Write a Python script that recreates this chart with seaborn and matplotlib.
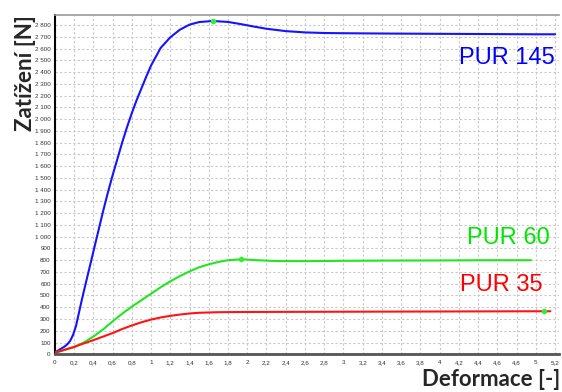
import matplotlib
matplotlib.use("Agg")
import matplotlib.pyplot as plt
import seaborn as sns
import pandas as pd

# ---- data ----
pur145_x = [0, 0.02, 0.05, 0.1, 0.13, 0.16, 0.19, 0.22, 0.25, 0.28, 0.3, 0.35, 0.4, 0.45,
            0.5, 0.55, 0.6, 0.65, 0.7, 0.75, 0.8, 0.85, 0.9, 0.95, 1.0, 1.1, 1.2, 1.3,
            1.4, 1.5, 1.64, 1.8, 1.93, 2.06, 2.2, 2.4, 2.6, 2.8, 3.0, 3.5, 4.0, 4.5,
            5.0, 5.2]
pur145_y = [0, 25, 40, 65, 85, 115, 165, 240, 350, 460, 530, 700, 870, 1040,
            1210, 1370, 1520, 1660, 1800, 1930, 2050, 2160, 2260, 2360, 2455, 2605, 2695, 2760,
            2803, 2825, 2834, 2826, 2808, 2788, 2768, 2748, 2737, 2732, 2730, 2727, 2725, 2723,
            2721, 2721]

pur60_x = [0, 0.05, 0.1, 0.15, 0.2, 0.25, 0.3, 0.4, 0.5, 0.6, 0.7, 0.8, 0.9, 1.0, 1.1,
           1.2, 1.3, 1.4, 1.5, 1.6, 1.7, 1.8, 1.94, 2.1, 2.3, 2.6, 3.0, 3.5, 4.0, 4.5, 4.95]
pur60_y = [15, 25, 38, 50, 62, 80, 100, 150, 210, 280, 345, 405, 460, 515, 570,
           620, 665, 705, 740, 765, 785, 800, 808, 800, 793, 792, 795, 797, 798, 800, 800]

pur35_x = [0, 0.05, 0.1, 0.15, 0.2, 0.25, 0.3, 0.4, 0.5, 0.6, 0.7, 0.8, 0.9, 1.0, 1.1,
           1.2, 1.3, 1.4, 1.5, 1.7, 2.0, 2.5, 3.0, 3.5, 4.0, 4.5, 5.0, 5.15]
pur35_y = [15, 25, 38, 50, 62, 78, 92, 120, 150, 180, 215, 245, 272, 295, 313,
           327, 338, 347, 353, 358, 360, 361, 362, 363, 364, 365, 366, 366]

series_names = ["PUR 145", "PUR 60", "PUR 35"]
series_colors = ["#1414ff", "#22e622", "#ff1414"]
label_colors = ["#0000ff", "#00e600", "#ff0000"]
label_pos = [(5.2, 2520), (5.145, 989), (5.065, 590)]

marker_x = [1.64, 1.94, 5.08]
marker_y = [2834, 808, 366]

x_ticks = [round(0.2 * i, 1) for i in range(27)]
y_ticks = list(range(0, 2900, 100))

# ---- build table ----
frames = []
for name, xs, ys in zip(series_names, [pur145_x, pur60_x, pur35_x],
                        [pur145_y, pur60_y, pur35_y]):
    frames.append(pd.DataFrame({"x": xs, "y": ys, "serie": name}))
df = pd.concat(frames, ignore_index=True)

sns.set_style("white")
plt.rcParams["font.family"] = ["Liberation Sans", "DejaVu Sans"]

fig = plt.figure(figsize=(5.62, 3.92), dpi=100)
ax = fig.add_axes([54.8 / 562, 37.7 / 392, (559 - 54.8) / 562, (354.3 - 15) / 392])

sns.lineplot(data=df, x="x", y="y", hue="serie", palette=dict(zip(series_names, series_colors)),
             linewidth=1.5, sort=False, estimator=None, legend=False, ax=ax, zorder=3)

ax.scatter(marker_x, marker_y, s=16, color="#33ee33", zorder=5, linewidths=0)

ax.set_xlim(0, 5.24)
ax.set_ylim(0, 2885)
ax.set_xticks(x_ticks)
ax.set_yticks(y_ticks)
ax.set_xticklabels([("%g" % t).replace(".", ",") for t in x_ticks], fontsize=4.5, color="#333333")
ax.set_yticklabels([("{:,}".format(t)).replace(",", " ") for t in y_ticks], fontsize=4.5, color="#333333")
ax.tick_params(axis="x", length=0, pad=4)
ax.tick_params(axis="y", length=0, pad=3)

ax.grid(True, color="#c8c8c8", linestyle=(0, (2, 2)), linewidth=0.8)
ax.set_axisbelow(True)

ax.spines["top"].set_color("#999999")
ax.spines["top"].set_linewidth(1.2)
ax.spines["right"].set_visible(False)
ax.spines["left"].set_color("black")
ax.spines["left"].set_linewidth(1.5)
ax.spines["bottom"].set_color("#555555")
ax.spines["bottom"].set_linewidth(2.0)
ax.spines["bottom"].set_linestyle((0, (1.5, 1)))

for name, c, (px, py) in zip(series_names, label_colors, label_pos):
    ax.text(px, py, name, color=c, fontsize=17, ha="right", va="center",
            family=["Liberation Sans", "DejaVu Sans"])

ax.set_xlabel("")
ax.set_ylabel("")
fig.text(25 / 562, 1 - 73 / 392, "Zatížení [N]", rotation=90, ha="center", va="center",
         fontsize=16, fontweight="bold", family=["Lato", "DejaVu Sans"])
fig.text(560 / 562, 1 - 379 / 392, "Deformace [-]", ha="right", va="center",
         fontsize=16, fontweight="bold", family=["Lato", "DejaVu Sans"])

fig.savefig("out.png", dpi=100)
